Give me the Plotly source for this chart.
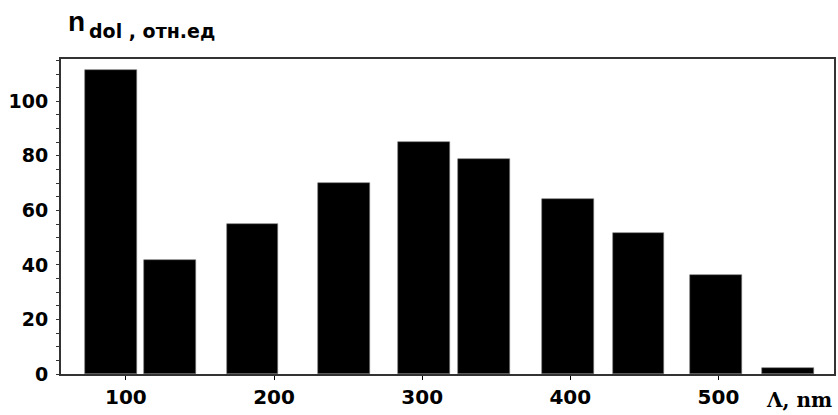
import plotly.graph_objects as go

# Data
wavelength_nm = [90, 130, 185.5, 247.5, 301, 342, 398.5, 446, 498.5, 547]
n_dol = [111.3, 41.7, 55.1, 69.9, 85.1, 79.0, 64.3, 51.8, 36.3, 2.1]
x_ticks = [100, 200, 300, 400, 500]
y_ticks = [0, 20, 40, 60, 80, 100]

fig = go.Figure()
fig.add_trace(go.Bar(
    x=wavelength_nm, y=n_dol, width=35,
    marker=dict(color="black", line=dict(color="#777777", width=0.6)),
    showlegend=False,
))

tick_font = dict(family="DejaVu Sans", size=20, color="black")

fig.update_layout(
    width=838, height=415,
    margin=dict(l=61, r=2, t=59, b=41),
    paper_bgcolor="white", plot_bgcolor="white",
    bargap=0,
    xaxis=dict(
        range=[56.2, 578], tickvals=x_ticks, ticktext=[f"<b>{v}</b>" for v in x_ticks],
        ticks="outside", ticklen=4, tickcolor="black", tickwidth=1,
        showline=True, linecolor="#333333", linewidth=2, mirror=True,
        showgrid=False, zeroline=False, tickfont=tick_font,
    ),
    yaxis=dict(
        range=[0, 115.5], tickvals=y_ticks, ticktext=[f"<b>{v}</b>" for v in y_ticks],
        ticks="outside", ticklen=3, tickcolor="#333333", tickwidth=1,
        minor=dict(dtick=5, ticks="outside", ticklen=3, tickcolor="#333333"),
        showline=True, linecolor="#333333", linewidth=2, mirror=True,
        showgrid=False, zeroline=False, tickfont=dict(family="DejaVu Sans", size=19, color="black"),
        ticklabelstandoff=4,
    ),
)

fig.add_annotation(
    xref="paper", yref="paper", x=(66 - 61) / 775, y=(374 - 39) / 315,
    xanchor="left", yanchor="bottom", showarrow=False,
    text="<b>n</b>", font=dict(family="Liberation Sans", size=28, color="black"),
)
fig.add_annotation(
    xref="paper", yref="paper", x=(87 - 61) / 775, y=(374 - 44) / 315,
    xanchor="left", yanchor="bottom", showarrow=False,
    text="<b>dol , отн.ед</b>", font=dict(family="DejaVu Sans", size=19, color="black"),
)
fig.add_annotation(
    xref="paper", yref="paper", x=1.0, y=-(386 - 374) / 315,
    xanchor="right", yanchor="top", showarrow=False,
    text="<b>Λ, nm</b>", font=dict(family="DejaVu Serif", size=20, color="black"),
)

fig.write_html(
    "out.html",
    config={"displayModeBar": False},
    post_script="document.body.style.margin='0';document.body.style.overflow='hidden';",
)
